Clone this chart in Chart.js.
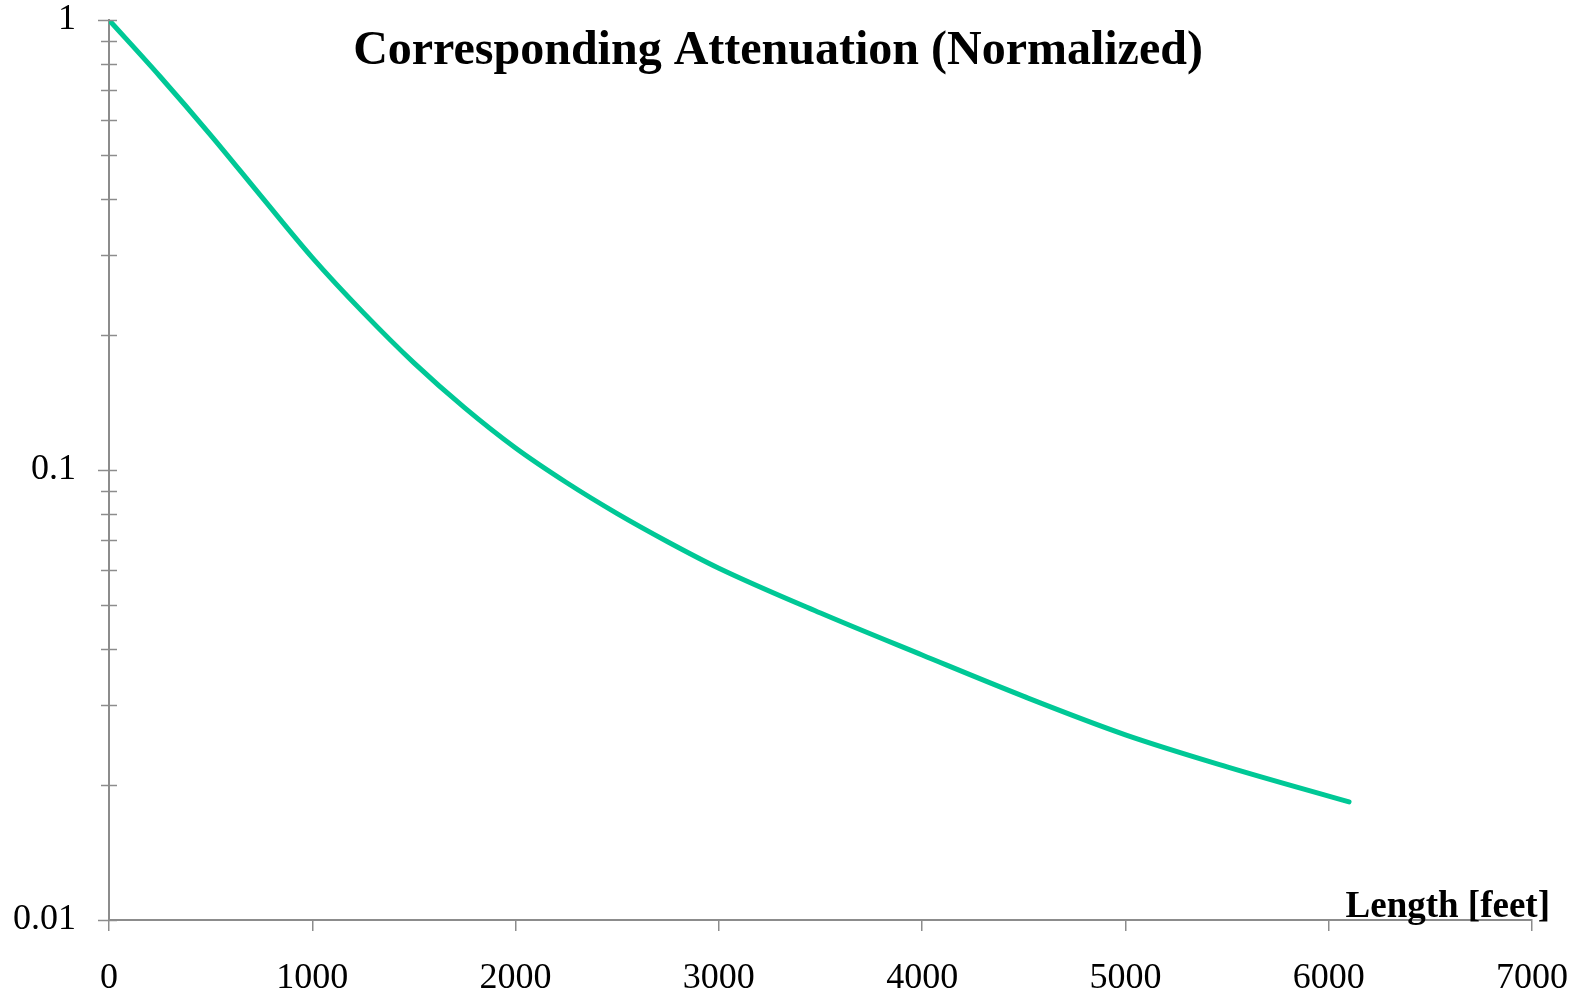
<!DOCTYPE html>
<html>
<head>
<meta charset="utf-8">
<title>Corresponding Attenuation (Normalized)</title>
<script src="https://cdn.jsdelivr.net/npm/chart.js@4.4.0/dist/chart.umd.min.js"></script>
<style>
  html, body { margin: 0; padding: 0; background: #fff; }
  #wrap { width: 1585px; height: 994px; }
</style>
</head>
<body>
<div id="wrap"><canvas id="chart"></canvas></div>
<script>
const TITLE = "Corresponding Attenuation (Normalized)";
const X_LABEL = "Length [feet]";
const LINE_COLOR = "#00c896";
const AXIS_COLOR = "#8c8c8c";
const SERIF = "'Liberation Serif', 'Times New Roman', serif";

// length in feet, attenuation normalized to 1 at 0 ft
const lengths = [0, 250, 500, 750, 1000, 1250, 1500, 1750, 2000, 2250, 2500, 2750, 3000, 3500, 4000, 4500, 5000, 5500, 6100];
const attenuation = [1, 0.75, 0.555, 0.405, 0.2965, 0.224, 0.173, 0.1374, 0.1119, 0.0938, 0.08, 0.0692, 0.0605, 0.0481, 0.0388, 0.0314, 0.0258, 0.0219, 0.0183];

const xTicks = [0, 1000, 2000, 3000, 4000, 5000, 6000, 7000];
const yTicks = [0.01, 0.02, 0.03, 0.04, 0.05, 0.06, 0.07, 0.08, 0.09,
  0.1, 0.2, 0.3, 0.4, 0.5, 0.6, 0.7, 0.8, 0.9, 1];
const yLabels = { 0.01: "0.01", 0.1: "0.1", 1: "1" };

// tick labels, ticks crossing the y axis, title and axis name
const decorations = {
  id: "decorations",
  afterDraw(chart) {
    const ctx = chart.ctx;
    const xs = chart.scales.x;
    const ys = chart.scales.y;
    const x0 = chart.chartArea.left;
    ctx.save();
    ctx.strokeStyle = AXIS_COLOR;
    ctx.lineWidth = 1.5;
    yTicks.forEach((v) => {
      const py = Math.round(ys.getPixelForValue(v)) + 0.5;
      const major = yLabels[v] !== undefined;
      ctx.beginPath();
      ctx.moveTo(x0 - (major ? 11 : 8), py);
      ctx.lineTo(x0 + 8, py);
      ctx.stroke();
    });

    ctx.fillStyle = "#000";
    ctx.font = "36px " + SERIF;
    ctx.textAlign = "right";
    ctx.textBaseline = "middle";
    Object.keys(yLabels).forEach((k) => {
      ctx.fillText(yLabels[k], 76, ys.getPixelForValue(Number(k)));
    });
    ctx.textAlign = "center";
    ctx.textBaseline = "alphabetic";
    xTicks.forEach((v) => {
      ctx.fillText(String(v), xs.getPixelForValue(v), 988);
    });

    ctx.font = "bold 48px " + SERIF;
    ctx.fillText(TITLE, 778, 64);
    ctx.font = "bold 37px " + SERIF;
    ctx.textAlign = "right";
    ctx.fillText(X_LABEL, 1550, 917);
    ctx.restore();
  },
};

new Chart(document.getElementById("chart"), {
  type: "line",
  data: {
    datasets: [{
      data: lengths.map((l, i) => ({ x: l, y: attenuation[i] })),
      borderColor: LINE_COLOR,
      borderWidth: 5,
      pointRadius: 0,
      cubicInterpolationMode: "monotone",
      borderCapStyle: "round",
      fill: false,
    }],
  },
  options: {
    responsive: true,
    maintainAspectRatio: false,
    animation: false,
    layout: { padding: { left: 0, right: 53, top: 20, bottom: 0 } },
    plugins: { legend: { display: false }, tooltip: { enabled: false } },
    scales: {
      x: {
        type: "linear",
        min: 0,
        max: 7000,
        afterBuildTicks: (s) => { s.ticks = xTicks.map((v) => ({ value: v })); },
        afterFit: (s) => { s.height = 74; },
        grid: { drawOnChartArea: false, tickLength: 11, color: AXIS_COLOR, lineWidth: 1.5 },
        border: { color: AXIS_COLOR, width: 2 },
        ticks: { display: false },
      },
      y: {
        type: "logarithmic",
        min: 0.01,
        max: 1,
        afterBuildTicks: (s) => { s.ticks = yTicks.map((v) => ({ value: v })); },
        afterFit: (s) => { s.width = 109; },
        grid: { drawOnChartArea: false, drawTicks: false },
        border: { color: AXIS_COLOR, width: 2 },
        ticks: { display: false },
      },
    },
  },
  plugins: [decorations],
});
</script>
</body>
</html>
